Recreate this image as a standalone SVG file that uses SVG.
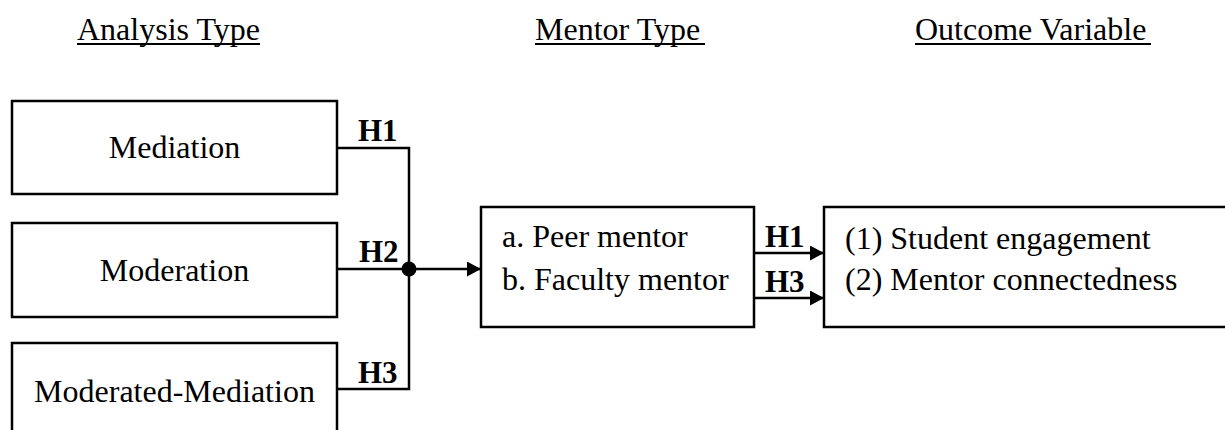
<svg xmlns="http://www.w3.org/2000/svg" width="1225" height="430" viewBox="0 0 1225 430">
  <style>
    .box { fill: #ffffff; stroke: #000000; stroke-width: 2.5; }
    .wire { fill: none; stroke: #000000; stroke-width: 2.5; }
    .t { font-family: "Liberation Serif", "Times New Roman", serif; font-size: 32px; fill: #000000; }
    .c { text-anchor: middle; }
    .h { font-family: "Liberation Serif", "Times New Roman", serif; font-size: 31px; font-weight: bold; fill: #000000; }
    .hdr { font-family: "Liberation Serif", "Times New Roman", serif; font-size: 32px; fill: #000000; }
    .ul { stroke: #000000; stroke-width: 2; }
  </style>
  <defs>
    <marker id="arrow" markerUnits="userSpaceOnUse" markerWidth="16" markerHeight="16" refX="14" refY="7.5" orient="auto">
      <path d="M0,0 L14,7.5 L0,15 Z" fill="#000000"/>
    </marker>
  </defs>
  <rect width="1225" height="430" fill="#ffffff"/>

  <g id="headers">
    <text class="hdr" x="77" y="40">Analysis Type</text>
    <line class="ul" x1="77" y1="44" x2="260" y2="44"/>
    <text class="hdr" x="535" y="40">Mentor Type</text>
    <line class="ul" x1="535" y1="44" x2="705" y2="44"/>
    <text class="hdr" x="915" y="40">Outcome Variable</text>
    <line class="ul" x1="915" y1="44" x2="1151" y2="44"/>
  </g>

  <g id="node-mediation">
    <rect class="box" x="12" y="101" width="325" height="93"/>
    <text class="t c" x="174.5" y="158">Mediation</text>
  </g>
  <g id="node-moderation">
    <rect class="box" x="12" y="223" width="325" height="94"/>
    <text class="t c" x="174.5" y="281">Moderation</text>
  </g>
  <g id="node-modmed">
    <rect class="box" x="12" y="343" width="325" height="100"/>
    <text class="t c" x="174.5" y="402">Moderated-Mediation</text>
  </g>
  <g id="node-mentor">
    <rect class="box" x="481" y="207" width="273" height="120"/>
    <text class="t" x="502" y="247">a. Peer mentor</text>
    <text class="t" x="502" y="290">b. Faculty mentor</text>
  </g>
  <g id="node-outcome">
    <rect class="box" x="824" y="207" width="420" height="120"/>
    <text class="t" x="845" y="249">(1) Student engagement</text>
    <text class="t" x="845" y="290">(2) Mentor connectedness</text>
  </g>

  <g id="connectors">
    <path class="wire" d="M337,148 H409 V389 H337"/>
    <path class="wire" d="M337,269 H409"/>
    <circle cx="409" cy="269" r="7.5" fill="#000000"/>
    <path class="wire" d="M409,269 H481" marker-end="url(#arrow)"/>
    <path class="wire" d="M754,253 H824" marker-end="url(#arrow)"/>
    <path class="wire" d="M754,298 H824" marker-end="url(#arrow)"/>
    <text class="h" x="358" y="141">H1</text>
    <text class="h" x="359" y="262">H2</text>
    <text class="h" x="358" y="383">H3</text>
    <text class="h" x="765" y="247">H1</text>
    <text class="h" x="765" y="292">H3</text>
  </g>
</svg>
